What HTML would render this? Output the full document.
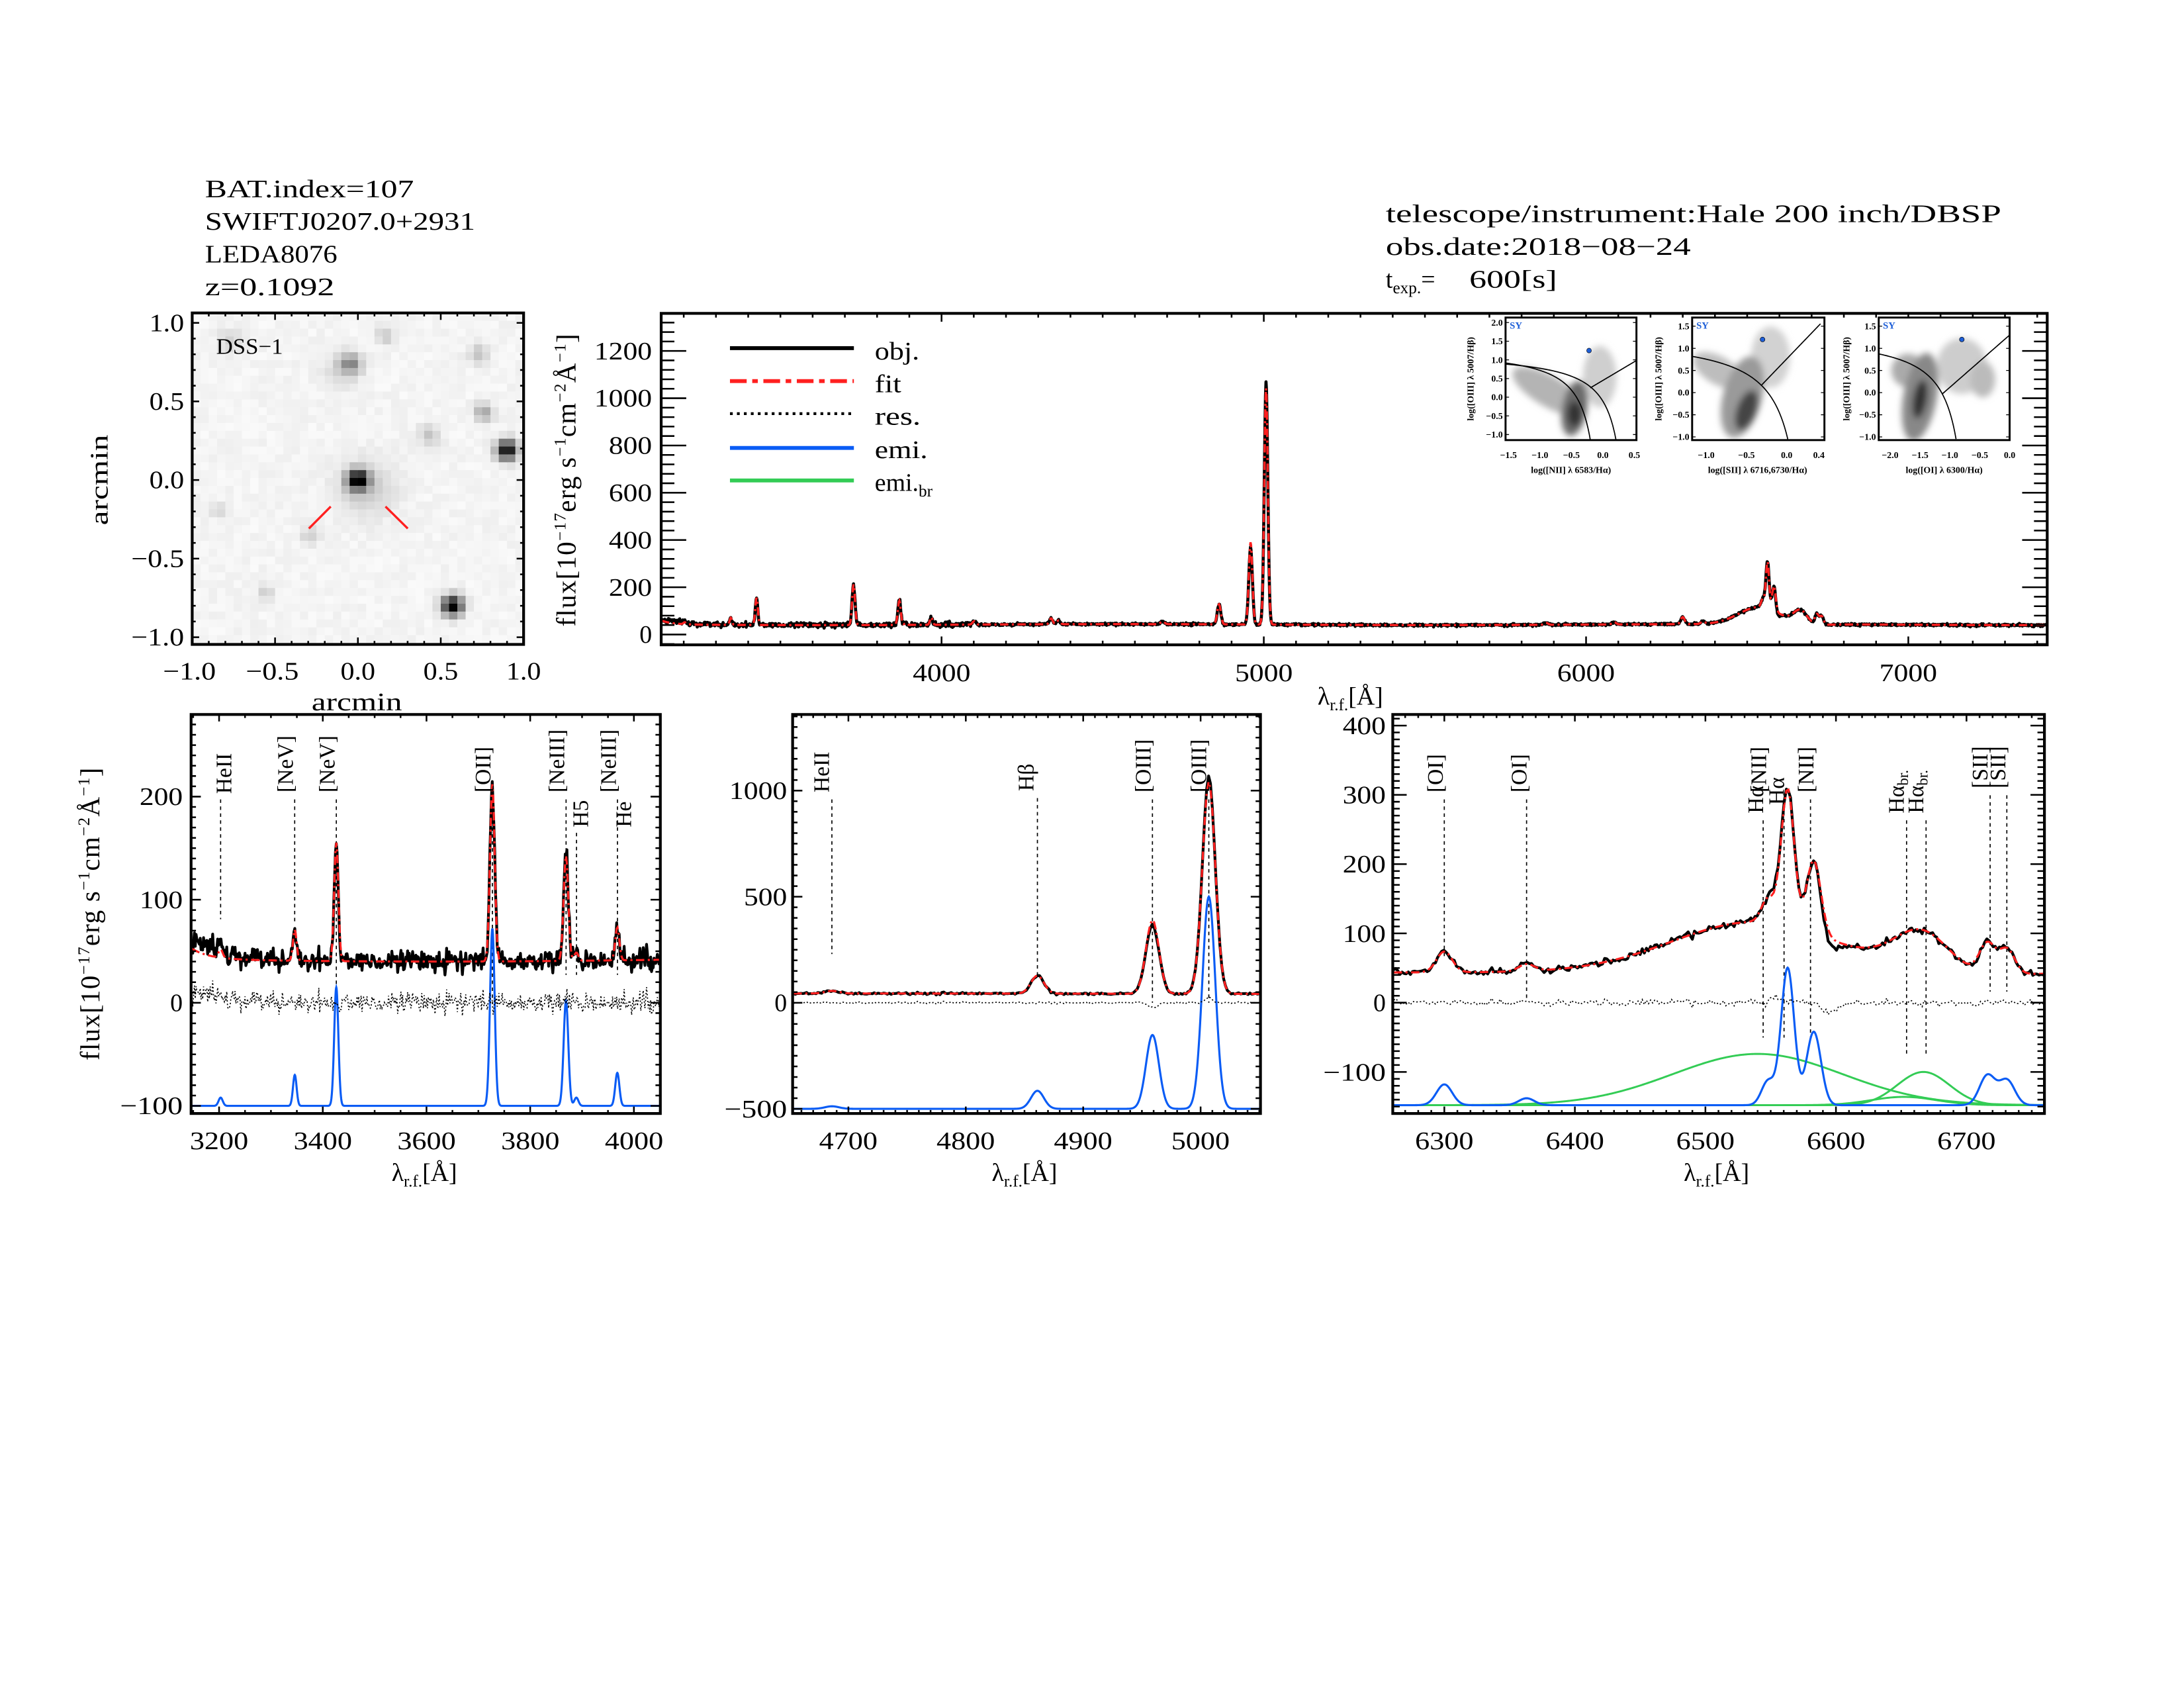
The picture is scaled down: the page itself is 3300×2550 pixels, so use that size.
<!DOCTYPE html>
<html><head><meta charset="utf-8">
<style>
html,body{margin:0;padding:0;background:#fff}
svg{display:block}
text{font-family:"Liberation Serif","DejaVu Serif",serif;fill:#000}
.t{font-size:18px}
.yl{font-size:19.5px;letter-spacing:0.6px}
.lab{font-size:16px}
.sm{font-size:6.6px;font-family:"Liberation Sans",sans-serif;font-weight:bold}
</style></head>
<body>
<svg id="s" xmlns="http://www.w3.org/2000/svg" width="3300" height="2550" viewBox="0 0 1568 1212">
<defs>
<clipPath id="cT"><rect x="474.6" y="225" width="995.4" height="238"/></clipPath>
<clipPath id="c1"><rect x="137" y="513" width="337" height="286.5"/></clipPath>
<clipPath id="c2"><rect x="569" y="513" width="336" height="286.5"/></clipPath>
<clipPath id="c3"><rect x="1000" y="513" width="468" height="286.5"/></clipPath>
<clipPath id="cD"><rect x="137.8" y="224.7" width="238" height="238"/></clipPath>
<clipPath id="ci1"><rect x="1081" y="228" width="94" height="88"/></clipPath>
<clipPath id="ci2"><rect x="1215" y="228" width="95" height="88"/></clipPath>
<clipPath id="ci3"><rect x="1349" y="228" width="94" height="88"/></clipPath>
<filter id="bl" x="-50%" y="-50%" width="200%" height="200%"><feGaussianBlur stdDeviation="2.4"/></filter>
</defs>
<rect x="0" y="0" width="1568" height="1212" fill="#fff"/>
<g id="g"></g>

<!-- Header -->
<text class="t" x="147" y="141.6" textLength="150" lengthAdjust="spacingAndGlyphs">BAT.index=107</text>
<text class="t" x="147" y="165" textLength="194" lengthAdjust="spacingAndGlyphs">SWIFTJ0207.0+2931</text>
<text class="t" x="147" y="188.5" textLength="95" lengthAdjust="spacingAndGlyphs">LEDA8076</text>
<text class="t" x="147" y="212" textLength="93" lengthAdjust="spacingAndGlyphs">z=0.1092</text>
<text class="t" x="995" y="159.5" textLength="442" lengthAdjust="spacingAndGlyphs">telescope/instrument:Hale 200 inch/DBSP</text>
<text class="t" x="995" y="183" textLength="219" lengthAdjust="spacingAndGlyphs">obs.date:2018−08−24</text>
<text class="t" x="995" y="206.5">t<tspan font-size="12" dy="4">exp.</tspan><tspan dy="-4">=</tspan></text>
<text class="t" x="1055" y="206.5" textLength="63" lengthAdjust="spacingAndGlyphs">600[s]</text>

<!-- DSS labels -->
<text class="lab" x="155" y="254" textLength="48" lengthAdjust="spacingAndGlyphs">DSS−1</text>
<g class="t" text-anchor="end">
<text x="132" y="237.8" textLength="25" lengthAdjust="spacingAndGlyphs">1.0</text>
<text x="132" y="294.2" textLength="25" lengthAdjust="spacingAndGlyphs">0.5</text>
<text x="132" y="350.6" textLength="25" lengthAdjust="spacingAndGlyphs">0.0</text>
<text x="132" y="407.1" textLength="38" lengthAdjust="spacingAndGlyphs">−0.5</text>
<text x="132" y="463.5" textLength="38" lengthAdjust="spacingAndGlyphs">−1.0</text>
</g>
<g class="t" text-anchor="middle">
<text x="135.8" y="488" textLength="38" lengthAdjust="spacingAndGlyphs">−1.0</text>
<text x="195.3" y="488" textLength="38" lengthAdjust="spacingAndGlyphs">−0.5</text>
<text x="256.8" y="488" textLength="25" lengthAdjust="spacingAndGlyphs">0.0</text>
<text x="316.3" y="488" textLength="25" lengthAdjust="spacingAndGlyphs">0.5</text>
<text x="375.8" y="488" textLength="25" lengthAdjust="spacingAndGlyphs">1.0</text>
<text x="256" y="510" textLength="65" lengthAdjust="spacingAndGlyphs">arcmin</text>
</g>
<text class="t" text-anchor="middle" x="77" y="344.6" transform="rotate(-90 77 344.6)" textLength="65" lengthAdjust="spacingAndGlyphs">arcmin</text>

<!-- Top panel labels -->
<g class="t" text-anchor="end">
<text x="468" y="461.6">0</text>
<text x="468" y="427.7" textLength="31" lengthAdjust="spacingAndGlyphs">200</text>
<text x="468" y="393.7" textLength="31" lengthAdjust="spacingAndGlyphs">400</text>
<text x="468" y="359.8" textLength="31" lengthAdjust="spacingAndGlyphs">600</text>
<text x="468" y="325.9" textLength="31" lengthAdjust="spacingAndGlyphs">800</text>
<text x="468" y="291.9" textLength="41.5" lengthAdjust="spacingAndGlyphs">1000</text>
<text x="468" y="258" textLength="41.5" lengthAdjust="spacingAndGlyphs">1200</text>
</g>
<g class="t" text-anchor="middle">
<text x="676" y="489" textLength="41.5" lengthAdjust="spacingAndGlyphs">4000</text>
<text x="907.4" y="489" textLength="41.5" lengthAdjust="spacingAndGlyphs">5000</text>
<text x="1138.8" y="489" textLength="41.5" lengthAdjust="spacingAndGlyphs">6000</text>
<text x="1370.2" y="489" textLength="41.5" lengthAdjust="spacingAndGlyphs">7000</text>
</g>
<text class="t" x="946" y="506">λ<tspan font-size="12" dy="4">r.f.</tspan><tspan dy="-4">[Å]</tspan></text>
<text class="yl" x="413" y="344.5" text-anchor="middle" transform="rotate(-90 413 344.5)">flux[10<tspan font-size="12" dy="-7">−17</tspan><tspan dy="7">erg s</tspan><tspan font-size="12" dy="-7">−1</tspan><tspan dy="7">cm</tspan><tspan font-size="12" dy="-7">−2</tspan><tspan dy="7">Å</tspan><tspan font-size="12" dy="-7">−1</tspan><tspan dy="7">]</tspan></text>

<!-- legend -->
<g class="t">
<text x="628" y="258" textLength="32" lengthAdjust="spacingAndGlyphs">obj.</text>
<text x="628" y="281.5" textLength="19" lengthAdjust="spacingAndGlyphs">fit</text>
<text x="628" y="305" textLength="33" lengthAdjust="spacingAndGlyphs">res.</text>
<text x="628" y="329" textLength="38" lengthAdjust="spacingAndGlyphs">emi.</text>
<text x="628" y="352.5">emi.<tspan font-size="12" dy="4">br</tspan></text>
</g>

<!-- Insets text -->
<g class="sm" text-anchor="end">
<text x="1079" y="233.8">2.0</text><text x="1079" y="247.2">1.5</text><text x="1079" y="260.6">1.0</text><text x="1079" y="274">0.5</text><text x="1079" y="287.4">0.0</text><text x="1079" y="300.8">−0.5</text><text x="1079" y="314.2">−1.0</text>
<text x="1213" y="236.4">1.5</text><text x="1213" y="252.3">1.0</text><text x="1213" y="268.2">0.5</text><text x="1213" y="284.1">0.0</text><text x="1213" y="300">−0.5</text><text x="1213" y="315.9">−1.0</text>
<text x="1347" y="236.4">1.5</text><text x="1347" y="252.3">1.0</text><text x="1347" y="268.2">0.5</text><text x="1347" y="284.1">0.0</text><text x="1347" y="300">−0.5</text><text x="1347" y="315.9">−1.0</text>
</g>
<g class="sm" text-anchor="middle">
<text x="1083.1" y="329">−1.5</text><text x="1105.7" y="329">−1.0</text><text x="1128.3" y="329">−0.5</text><text x="1150.9" y="329">0.0</text><text x="1173.5" y="329">0.5</text>
<text x="1225.1" y="329">−1.0</text><text x="1254" y="329">−0.5</text><text x="1282.9" y="329">0.0</text><text x="1306" y="329">0.4</text>
<text x="1357.2" y="329">−2.0</text><text x="1378.7" y="329">−1.5</text><text x="1400.1" y="329">−1.0</text><text x="1421.6" y="329">−0.5</text><text x="1443" y="329">0.0</text>
<text x="1128" y="339.5">log([NII] λ 6583/Hα)</text>
<text x="1262" y="339.5">log([SII] λ 6716,6730/Hα)</text>
<text x="1396" y="339.5">log([OI] λ 6300/Hα)</text>
<text x="1058" y="272" transform="rotate(-90 1058 272)">log([OIII] λ 5007/Hβ)</text>
<text x="1193" y="272" transform="rotate(-90 1193 272)">log([OIII] λ 5007/Hβ)</text>
<text x="1328" y="272" transform="rotate(-90 1328 272)">log([OIII] λ 5007/Hβ)</text>
</g>
<g class="sm" style="font-size:7px">
<text x="1084" y="236" style="fill:#1e5fd8">SY</text><text x="1218" y="236" style="fill:#1e5fd8">SY</text><text x="1352" y="236" style="fill:#1e5fd8">SY</text>
</g>

<!-- Bottom panels tick labels -->
<g class="t" text-anchor="end">
<text x="131" y="578" textLength="31" lengthAdjust="spacingAndGlyphs">200</text>
<text x="131" y="652" textLength="31" lengthAdjust="spacingAndGlyphs">100</text>
<text x="131" y="726">0</text>
<text x="131" y="800" textLength="45" lengthAdjust="spacingAndGlyphs">−100</text>
<text x="565" y="573.7" textLength="41.5" lengthAdjust="spacingAndGlyphs">1000</text>
<text x="565" y="649.9" textLength="31" lengthAdjust="spacingAndGlyphs">500</text>
<text x="565" y="726">0</text>
<text x="565" y="802.2" textLength="45" lengthAdjust="spacingAndGlyphs">−500</text>
<text x="995" y="527" textLength="31" lengthAdjust="spacingAndGlyphs">400</text>
<text x="995" y="576.8" textLength="31" lengthAdjust="spacingAndGlyphs">300</text>
<text x="995" y="626.5" textLength="31" lengthAdjust="spacingAndGlyphs">200</text>
<text x="995" y="676.3" textLength="31" lengthAdjust="spacingAndGlyphs">100</text>
<text x="995" y="726">0</text>
<text x="995" y="775.8" textLength="45" lengthAdjust="spacingAndGlyphs">−100</text>
</g>
<g class="t" text-anchor="middle">
<text x="157.1" y="825" textLength="42" lengthAdjust="spacingAndGlyphs">3200</text>
<text x="231.6" y="825" textLength="42" lengthAdjust="spacingAndGlyphs">3400</text>
<text x="306.1" y="825" textLength="42" lengthAdjust="spacingAndGlyphs">3600</text>
<text x="380.6" y="825" textLength="42" lengthAdjust="spacingAndGlyphs">3800</text>
<text x="455.1" y="825" textLength="42" lengthAdjust="spacingAndGlyphs">4000</text>
<text x="609" y="825" textLength="42" lengthAdjust="spacingAndGlyphs">4700</text>
<text x="693.3" y="825" textLength="42" lengthAdjust="spacingAndGlyphs">4800</text>
<text x="777.6" y="825" textLength="42" lengthAdjust="spacingAndGlyphs">4900</text>
<text x="861.9" y="825" textLength="42" lengthAdjust="spacingAndGlyphs">5000</text>
<text x="1037" y="825" textLength="42" lengthAdjust="spacingAndGlyphs">6300</text>
<text x="1130.8" y="825" textLength="42" lengthAdjust="spacingAndGlyphs">6400</text>
<text x="1224.5" y="825" textLength="42" lengthAdjust="spacingAndGlyphs">6500</text>
<text x="1318.3" y="825" textLength="42" lengthAdjust="spacingAndGlyphs">6600</text>
<text x="1412" y="825" textLength="42" lengthAdjust="spacingAndGlyphs">6700</text>
</g>
<text class="t" x="281" y="848">λ<tspan font-size="12" dy="4">r.f.</tspan><tspan dy="-4">[Å]</tspan></text>
<text class="t" x="712" y="848">λ<tspan font-size="12" dy="4">r.f.</tspan><tspan dy="-4">[Å]</tspan></text>
<text class="t" x="1209" y="848">λ<tspan font-size="12" dy="4">r.f.</tspan><tspan dy="-4">[Å]</tspan></text>
<text class="yl" x="71" y="656" text-anchor="middle" transform="rotate(-90 71 656)">flux[10<tspan font-size="12" dy="-7">−17</tspan><tspan dy="7">erg s</tspan><tspan font-size="12" dy="-7">−1</tspan><tspan dy="7">cm</tspan><tspan font-size="12" dy="-7">−2</tspan><tspan dy="7">Å</tspan><tspan font-size="12" dy="-7">−1</tspan><tspan dy="7">]</tspan></text>

<!-- line labels -->
<g class="lab">
<text x="166" y="570" transform="rotate(-90 166 570)">HeII</text>
<text x="210" y="569" transform="rotate(-90 210 569)">[NeV]</text>
<text x="240" y="569" transform="rotate(-90 240 569)">[NeV]</text>
<text x="352" y="569" transform="rotate(-90 352 569)">[OII]</text>
<text x="405" y="569" transform="rotate(-90 405 569)">[NeIII]</text>
<text x="422" y="594" transform="rotate(-90 422 594)">H5</text>
<text x="442" y="569" transform="rotate(-90 442 569)">[NeIII]</text>
<text x="453" y="594" transform="rotate(-90 453 594)">He</text>
<text x="595" y="569" transform="rotate(-90 595 569)">HeII</text>
<text x="742" y="568" transform="rotate(-90 742 568)">Hβ</text>
<text x="826" y="569" transform="rotate(-90 826 569)">[OIII]</text>
<text x="866" y="569" transform="rotate(-90 866 569)">[OIII]</text>
<text x="1036" y="569" transform="rotate(-90 1036 569)">[OI]</text>
<text x="1096" y="569" transform="rotate(-90 1096 569)">[OI]</text>
<text x="1266" y="584" transform="rotate(-90 1266 584)">Hα</text>
<text x="1268" y="569" transform="rotate(-90 1268 569)">[NII]</text>
<text x="1281" y="578" transform="rotate(-90 1281 578)">Hα</text>
<text x="1302" y="569" transform="rotate(-90 1302 569)">[NII]</text>
<text x="1367" y="584" transform="rotate(-90 1367 584)">Hα<tspan font-size="11" dy="3">br.</tspan></text>
<text x="1381" y="584" transform="rotate(-90 1381 584)">Hα<tspan font-size="11" dy="3">br.</tspan></text>
<text x="1427" y="566" transform="rotate(-90 1427 566)">[SII]</text>
<text x="1440" y="566" transform="rotate(-90 1440 566)">[SII]</text>
</g>
</svg>
<script>
(function(){
var NS='http://www.w3.org/2000/svg';
var G0=document.getElementById('g');
function el(tag,a,p){var e=document.createElementNS(NS,tag);for(var k in a)e.setAttribute(k,a[k]);(p||G0).appendChild(e);return e;}
var seed=12345;
function R(){seed|=0;seed=seed+0x6D2B79F5|0;var t=Math.imul(seed^seed>>>15,1|seed);t=t+Math.imul(t^t>>>7,61|t)^t;return((t^t>>>14)>>>0)/4294967296;}
function gn(){var u=R()||1e-9,v=R();return Math.sqrt(-2*Math.log(u))*Math.cos(2*Math.PI*v);}
function Gs(l,c,a,s){return a*Math.exp(-(l-c)*(l-c)/(2*s*s));}
var NAR=[[3203,8,4],[3346,30,3.5],[3426,115,4],[3727,172,4.5],[3869,102,4.5],[3889,8,4],[3968,32,4],[4101,14,5],[4340,25,5],[4363,16,5],[4686,12,6],[4861,85,5.5],[4959,348,5.5],[5007,1000,5.5],[5876,8,6],[6087,10,6],[6300,30,6],[6363,10,6],[6548,35,5],[6563,198,5],[6583,106,5.5],[6716,43,6],[6731,36,6]];
var BRD=[[6540,74,65],[6667,48,20],[6652,12,25]];
function cont(l){return 42+13*Math.exp(-(l-3140)/35)-2*Math.sin((l-3150)/300);}
function nsum(l){var s=0;for(var i=0;i<NAR.length;i++)s+=Gs(l,NAR[i][0],NAR[i][1],NAR[i][2]);return s;}
function bsum(l){var s=0;for(var i=0;i<BRD.length;i++)s+=Gs(l,BRD[i][0],BRD[i][1],BRD[i][2]);return s;}
function fit(l){return cont(l)-Gs(l,6650,8,60)+nsum(l)+bsum(l);}
var D=[];
for(var l=3130;l<=7432;l+=1.6){
 var f=fit(l);var sd=l<4100?5:2.5;
 var n=sd*gn()+(l<3200?4*gn():0)+Gs(l,4959,-25,4)+Gs(l,5007,25,3)+Gs(l,6595,-14,6)+Gs(l,6555,8,4)+Gs(l,3180,10,20);
 D.push([l,f+n,f,n]);
}
function P(L,Rr,T,B,x0,x1,y0,y1){return {L:L,R:Rr,T:T,B:B,x0:x0,x1:x1,y0:y0,y1:y1,X:function(v){return L+(v-x0)/(x1-x0)*(Rr-L);},Y:function(v){return B-(v-y0)/(y1-y0)*(B-T);}};}
var PT=P(474.6,1470,225,463,3130,7431,-43.6,1359);
var P1=P(137,474,513,799.5,3146,4051,-107.4,279.7);
var P2=P(569,905,513,799.5,4652.5,5051,-522,1359);
var P3=P(1000,1468,513,799.5,6260.5,6759.7,-160,416);
var PD=P(137.8,375.8,224.7,462.7,-1,1,-1.046,1.063);
function pathData(p,idx,off,lo,hi){var s='',first=true;for(var i=0;i<D.length;i++){var l=D[i][0];if(l<lo||l>hi)continue;var y=p.Y(D[i][idx]+(off||0));s+=(first?'M':'L')+p.X(l).toFixed(2)+','+y.toFixed(2);first=false;}return s;}
function fnPath(p,fn,lo,hi,st){var s='';for(var l=lo;l<=hi;l+=st){s+=(l==lo?'M':'L')+p.X(l).toFixed(2)+','+p.Y(fn(l)).toFixed(2);}return s;}
function ticks(p,xmaj,xminS,ymaj,yminS,xl,yl){
 var d='';var n0=Math.ceil(p.x0/xminS-1e-9),n1=Math.floor(p.x1/xminS+1e-9);
 for(var k=n0;k<=n1;k++){var v=k*xminS;var r=v/xmaj;var mj=Math.abs(r-Math.round(r))<1e-6;var len=mj?xl[0]:xl[1];var X=p.X(v).toFixed(2);d+='M'+X+','+p.B+'v'+(-len)+'M'+X+','+p.T+'v'+len;}
 n0=Math.ceil(p.y0/yminS-1e-9);n1=Math.floor(p.y1/yminS+1e-9);
 for(k=n0;k<=n1;k++){var v2=k*yminS;var r2=v2/ymaj;var mj2=Math.abs(r2-Math.round(r2))<1e-6;var len2=mj2?yl[0]:yl[1];var Y=p.Y(v2).toFixed(2);d+='M'+p.L+','+Y+'h'+len2+'M'+p.R+','+Y+'h'+(-len2);}
 el('path',{d:d,stroke:'#000','stroke-width':1.2,fill:'none'});
 el('rect',{x:p.L,y:p.T,width:p.R-p.L,height:p.B-p.T,fill:'none',stroke:'#000','stroke-width':2});
}
// DSS image
var gD=el('g',{'clip-path':'url(#cD)'});
var stars=[[0,0,250,0.045],[0.9,0.19,250,0.045],[0.57,-0.8,250,0.045],[-0.04,0.74,100,0.045],[0.73,0.8,50,0.045],[0.76,0.43,80,0.04],[0.43,0.28,50,0.045],[0.17,0.92,45,0.04],[-0.77,0.89,35,0.05],[-0.29,-0.35,40,0.04],[-0.56,-0.72,40,0.035],[-0.84,-0.19,35,0.035],[-0.1,0.7,30,0.08],[0.05,-0.05,45,0.12]];
var cs=0.05;
for(var i=0;i<40;i++)for(var j=0;j<43;j++){
 var ax=-1+(i+0.5)*cs, ay=1.063-(j+0.5)*cs;
 var v=250-11*R();
 for(var s=0;s<stars.length;s++){var dx=ax-stars[s][0],dy=ay-stars[s][1];v-=stars[s][2]*Math.exp(-(dx*dx+dy*dy)/(2*stars[s][3]*stars[s][3]));}
 v=Math.max(0,Math.min(255,Math.round(v)));
 el('rect',{x:(PD.X(ax-cs/2)).toFixed(2),y:(PD.Y(ay+cs/2)).toFixed(2),width:6.2,height:6.0,fill:'rgb('+v+','+v+','+v+')'},gD);
}
el('path',{d:'M221.6,379.5L237.3,363.7M276.6,363.7L292.6,379.5',stroke:'#ff2020','stroke-width':1.6});
ticks(PD,0.5,0.1,0.5,0.1,[5,2.5],[5,2.5]);
// Top panel
var gT=el('g',{'clip-path':'url(#cT)'});
el('path',{d:pathData(PT,1,0,3130,7431),stroke:'#000','stroke-width':2.2,fill:'none','stroke-linejoin':'round'},gT);
el('path',{d:pathData(PT,2,0,3130,7431),stroke:'#ff2020','stroke-width':1.6,fill:'none','stroke-dasharray':'6 2.5 1.5 2.5'},gT);
ticks(PT,1000,100,200,40,[6,3],[18,9.5]);
// legend
el('path',{d:'M524,250h89',stroke:'#000','stroke-width':2.8});
el('path',{d:'M524,273.6h89',stroke:'#ff2020','stroke-width':2.8,'stroke-dasharray':'12 4 4 4'});
el('path',{d:'M524,297h89',stroke:'#000','stroke-width':2,'stroke-dasharray':'2 3'});
el('path',{d:'M524,321.6h89',stroke:'#0a5cf5','stroke-width':2.8});
el('path',{d:'M524,345h89',stroke:'#33cc55','stroke-width':2.8});
// insets
function inset(cid,L,Rr,X,Y,blobs,curves,dot,yt){
 var g=el('g',{'clip-path':'url('+cid+')'});
 el('rect',{x:L,y:228,width:Rr-L,height:88,fill:'#fff'},g);
 var gb=el('g',{filter:'url(#bl)'},g);
 for(var i=0;i<blobs.length;i++){var b=blobs[i];var cx=X(b[0]),cy=Y(b[1]);el('ellipse',{cx:cx,cy:cy,rx:b[2],ry:b[3],fill:b[5],transform:'rotate('+b[4]+' '+cx+' '+cy+')'},gb);}
 for(i=0;i<curves.length;i++){var c=curves[i];var s='';for(var k=0;k<=60;k++){var xv=c[1]+(c[2]-c[1])*k/60;s+=(k?'L':'M')+X(xv).toFixed(2)+','+Y(c[0](xv)).toFixed(2);}el('path',{d:s,stroke:'#000','stroke-width':0.8,fill:'none'},g);}
 el('circle',{cx:X(dot[0]),cy:Y(dot[1]),r:1.7,fill:'#1e5fd8',stroke:'#000','stroke-width':0.3},g);
 var d='';for(i=0;i<yt.length;i++){d+='M'+L+','+Y(yt[i]).toFixed(2)+'h2.5M'+Rr+','+Y(yt[i]).toFixed(2)+'h-2.5';}
 el('path',{d:d,stroke:'#000','stroke-width':0.6});
 el('rect',{x:L,y:228,width:Rr-L,height:88,fill:'none',stroke:'#000','stroke-width':1.4});
}
var X1=function(v){return 1083.1+(v+1.5)*45.2;},Y1=function(v){return 231.6+(2-v)*26.8;};
var X2=function(v){return 1225.1+(v+1)*57.8;},Y2=function(v){return 234.2+(1.5-v)*31.8;};
var X3=function(v){return 1357.2+(v+2)*42.9;};
inset('#ci1',1081,1175,X1,Y1,
 [[-0.85,0.15,30,11,30,'#b4b4b4'],[-0.05,0.55,12,22,0,'#cfcfcf'],[-0.45,-0.3,9,20,10,'#6a6a6a'],[-0.45,-0.45,5,9,0,'#333']],
 [[function(x){return 0.61/(x-0.05)+1.3;},-1.55,-0.19],[function(x){return 0.61/(x-0.47)+1.19;},-1.55,0.215],[function(x){return 1.0*x+0.45;},-0.2,0.55]],
 [-0.22,1.25],[2,1.5,1,0.5,0,-0.5,-1]);
inset('#ci2',1215,1310,X2,Y2,
 [[-0.85,0.5,20,10,30,'#bdbdbd'],[-0.2,0.8,14,22,0,'#d2d2d2'],[-0.55,-0.1,14,30,15,'#9a9a9a'],[-0.5,-0.4,7,15,20,'#444']],
 [[function(x){return 0.72/(x-0.32)+1.30;},-1.2,0.0136],[function(x){return 1.89*x+0.76;},-0.31,0.42]],
 [-0.3,1.2],[1.5,1,0.5,0,-0.5,-1]);
inset('#ci3',1349,1443,X3,Y2,
 [[-1.7,0.5,12,12,0,'#aaa'],[-0.8,0.6,18,20,0,'#cdcdcd'],[-0.45,0.3,9,13,0,'#bbb'],[-1.5,-0.1,12,32,10,'#888'],[-1.5,-0.15,5,14,10,'#333']],
 [[function(x){return 0.73/(x+0.59)+1.33;},-2.2,-0.897],[function(x){return 1.18*x+1.30;},-1.13,0.02]],
 [-0.8,1.2],[1.5,1,0.5,0,-0.5,-1]);
// bottom panels
function vlines(arr){var d='';for(var i=0;i<arr.length;i++)d+='M'+arr[i][0]+','+arr[i][1]+'V'+arr[i][2];el('path',{d:d,stroke:'#000','stroke-width':0.8,'stroke-dasharray':'2.5 2.5',fill:'none'});}
function panel(p,cid,lo,hi,emOff,green,xmaj,xmn,ymaj,ymn,yl){
 var g=el('g',{'clip-path':'url('+cid+')'});
 if(green){for(var i=0;i<BRD.length;i++){(function(b){el('path',{d:fnPath(p,function(l){return emOff+Gs(l,b[0],b[1],b[2]);},lo,hi,1),stroke:'#33cc55','stroke-width':1.4,fill:'none'},g);})(BRD[i]);}}
 el('path',{d:fnPath(p,function(l){return emOff+nsum(l);},lo,hi,0.5),stroke:'#0a5cf5','stroke-width':1.5,fill:'none'},g);
 el('path',{d:pathData(p,3,0,lo,hi),stroke:'#000','stroke-width':0.8,fill:'none','stroke-dasharray':'1 1.5'},g);
 el('path',{d:pathData(p,1,0,lo,hi),stroke:'#000','stroke-width':2,fill:'none','stroke-linejoin':'round'},g);
 el('path',{d:pathData(p,2,0,lo,hi),stroke:'#ff2020','stroke-width':1.5,fill:'none','stroke-dasharray':'6 2.5 1.5 2.5'},g);
 ticks(p,xmaj,xmn,ymaj,ymn,[5,2.5],yl);
}
vlines([[158.2,574,660],[211.4,574,664],[241.3,574,722],[353.4,574,720],[406.3,574,700],[413.8,598,700],[443.2,574,700]]);
vlines([[597.2,574,685],[744.8,573,700],[827.4,574,720],[867.9,574,720]]);
vlines([[1037,574,688],[1096.1,574,718],[1266,589,745],[1281,583,745],[1300,574,745],[1369,589,757],[1383,589,757],[1429,571,712],[1441,571,712]]);
panel(P1,'#c1',3146,4051,-100,false,200,50,100,10,[7,3.5]);
panel(P2,'#c2',4652,5051,-500,false,100,10,500,50,[7,3.5]);
panel(P3,'#c3',6260,6760,-148,true,100,10,100,10,[10,5]);
})();
</script>
</body></html>
